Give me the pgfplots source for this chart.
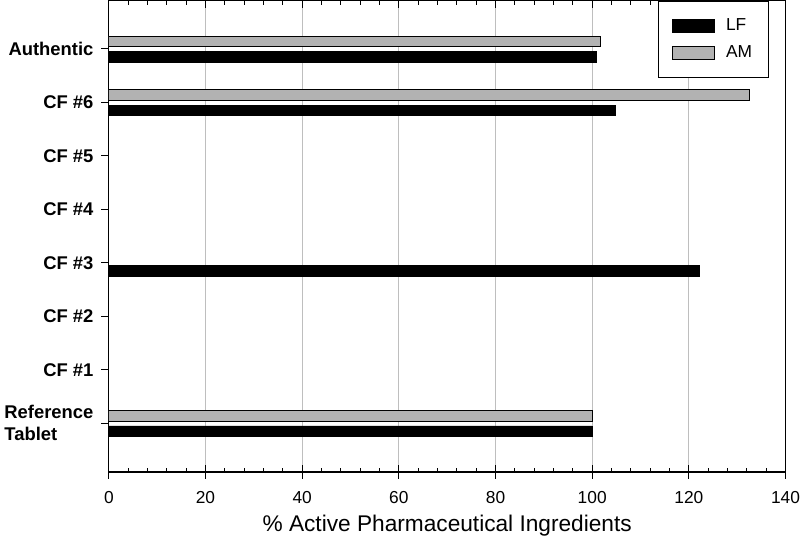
\documentclass[border=0pt]{standalone}
\usepackage{fontspec}
\setmainfont{Liberation Sans}
\usepackage{pgfplots}
\pgfplotsset{compat=1.18}
\definecolor{amgray}{RGB}{178,178,178}
\definecolor{gridgray}{RGB}{190,190,190}
\pgfplotsset{boxlegend/.style={legend image code/.code={\draw[##1] (0pt,-4.9pt) rectangle (32pt,4.9pt);}}}
\begin{document}
\begin{tikzpicture}
\begin{axis}[
  scale only axis,
  width=507.4pt, height=353.3pt,
  xmin=0, xmax=140, ymin=-0.91, ymax=7.9,
  xtick={0,20,...,140},
  minor x tick num=4,
  xmajorgrids,
  major grid style={gridgray, line width=0.9pt},
  xtick pos=both,
  xtick align=inside,
  ytick pos=left,
  ytick align=outside,
  major tick length=5.5pt,
  minor tick length=3pt,
  tick style={black, line width=0.8pt},
  axis line style={line width=1pt},
  extra x ticks={0,20,...,140},
  extra x tick labels={},
  extra x tick style={grid=none, xtick pos=bottom, tick align=outside, major tick length=5pt},
  ytick={0,1,2,3,4,5,6,7},
  yticklabels={Reference\\Tablet, CF \#1, CF \#2, CF \#3, CF \#4, CF \#5, CF \#6, Authentic},
  y tick label style={font=\bfseries\fontsize{13.8}{16.5}\selectfont, align=left, xshift=-2.5pt},
  x tick label style={font=\fontsize{13}{15}\selectfont, yshift=-11pt, inner xsep=0pt},
  /pgf/number format/assume math mode=true,
  xlabel={\% Active Pharmaceutical Ingredients},
  xlabel style={font=\fontsize{17}{19}\selectfont, yshift=3pt},
  legend style={at={(rel axis cs:0.975,1.0)}, anchor=north east, draw=black, line width=0.8pt,
    font=\fontsize{13}{15}\selectfont, inner xsep=10pt, inner ysep=11pt, row sep=6pt,
    nodes={inner sep=2pt},
    /tikz/every odd column/.append style={column sep=6pt},
    legend cell align=left},
]
\addplot[xbar, bar width=7.9pt, bar shift=-6pt, fill=black, draw=black, line width=0.6pt, boxlegend]
  coordinates {(100,0) (122.2,3) (104.7,6) (100.9,7)};
\addlegendentry{LF\hspace{8pt}}
\addplot[xbar, bar width=7.9pt, bar shift=5.5pt, fill=amgray, draw=black, line width=0.8pt, boxlegend]
  coordinates {(100,0) (132.5,6) (101.8,7)};
\addlegendentry{AM\hspace{8pt}}
\end{axis}
\end{tikzpicture}
\end{document}
